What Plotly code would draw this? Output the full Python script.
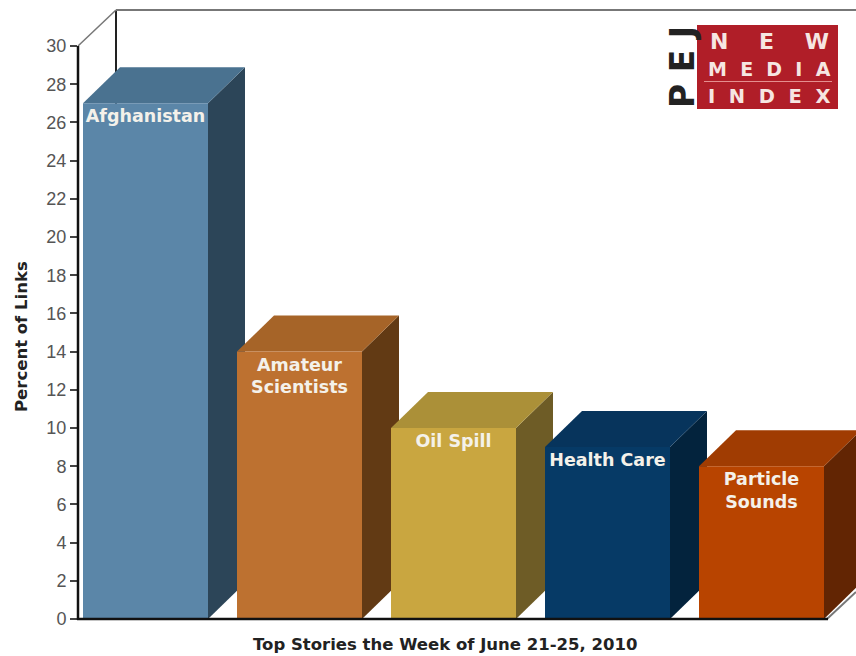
import plotly.graph_objects as go

# Data
stories = ["Afghanistan", "Amateur<br>Scientists", "Oil Spill", "Health Care", "Particle<br>Sounds"]
percent_links = [27, 14, 10, 9, 8]
front_colors = ["#5b86a8", "#bd7130", "#c9a640", "#063a66", "#b84400"]
top_colors = ["#4a7290", "#a66428", "#ab9038", "#07345c", "#a03c02"]
side_colors = ["#2c4558", "#623a14", "#6e5c26", "#03233d", "#622503"]
y_ticks = list(range(0, 31, 2))
x_title = "Top Stories the Week of June 21-25, 2010"
y_title = "Percent of Links"

W, H = 856, 656
L, R, T, B = 78, 0, 10, 37
PX_UNIT_Y = 19.1
PITCH = 154
BAR_W = 125 / PITCH
DX = 37 / PITCH
DY = 36 / PX_UNIT_Y
x_range = [(78 - 145.5) / PITCH, (856 - 145.5) / PITCH]
y_range = [0, (H - T - B) / PX_UNIT_Y]


def px(x):
    return (x - L) / (W - L - R)


def py(y):
    return (H - B - y) / (H - T - B)


fig = go.Figure()
for i, v in enumerate(percent_links):
    right = i + BAR_W / 2
    left = i - BAR_W / 2
    fig.add_trace(go.Scatter(
        x=[right, right + DX, right + DX, right, right],
        y=[0, DY, v + DY, v, 0],
        fill="toself", fillcolor=side_colors[i], mode="lines",
        line=dict(width=0), hoverinfo="skip", showlegend=False))
    fig.add_trace(go.Scatter(
        x=[left, left + DX, right + DX, right, left],
        y=[v, v + DY, v + DY, v, v],
        fill="toself", fillcolor=top_colors[i], mode="lines",
        line=dict(width=0), hoverinfo="skip", showlegend=False))

fig.add_trace(go.Bar(
    x=list(range(len(stories))), y=percent_links, width=BAR_W,
    marker=dict(color=front_colors, line=dict(width=0)),
    text=stories, textposition="inside", insidetextanchor="end",
    textangle=0, constraintext="none",
    insidetextfont=dict(family="DejaVu Sans", size=17.5, color="#f4f1ea", weight="bold"),
    xaxis="x2", yaxis="y2", showlegend=False))

line_gray = "#777777"
shapes = [
    dict(type="line", xref="paper", yref="paper", x0=px(116), x1=px(116), y0=py(10), y1=py(583),
         line=dict(color="#222222", width=2), layer="below"),
    dict(type="line", xref="paper", yref="paper", x0=px(116), x1=1, y0=py(10), y1=py(10),
         line=dict(color=line_gray, width=2), layer="below"),
    dict(type="line", xref="paper", yref="paper", x0=px(78), x1=px(116), y0=py(46), y1=py(10),
         line=dict(color=line_gray, width=1.5), layer="below"),
    dict(type="line", xref="paper", yref="paper", x0=px(827), x1=1, y0=py(619), y1=py(592),
         line=dict(color=line_gray, width=2), layer="below"),
    dict(type="line", xref="paper", yref="paper", x0=px(78), x1=px(78), y0=py(46), y1=py(620),
         line=dict(color="#111111", width=2.5), layer="above"),
    dict(type="line", xref="paper", yref="paper", x0=px(77), x1=px(828), y0=py(619), y1=py(619),
         line=dict(color="#111111", width=2.5), layer="above"),
    dict(type="rect", xref="paper", yref="paper", x0=px(697), x1=px(838), y0=py(25), y1=py(109),
         fillcolor="#b01e28", line=dict(width=0), layer="above"),
    dict(type="line", xref="paper", yref="paper", x0=px(704), x1=px(832), y0=py(81.5), y1=py(81.5),
         line=dict(color="#e58f8f", width=1), layer="above"),
]


def note(text, x, y, family, size, color, weight="bold", angle=0):
    return dict(text=text, xref="paper", yref="paper", x=px(x), y=py(y), showarrow=False,
                xanchor="center", yanchor="middle", textangle=angle,
                font=dict(family=family, size=size, color=color, weight=weight))


nb = "\u00a0"
annotations = [
    note(x_title, 445, 644, "DejaVu Sans", 16.5, "#222222"),
    note(y_title, 21, 337, "DejaVu Sans", 16.5, "#222222", angle=-90),
    note(nb.join("PEJ"), 682, 67, "DejaVu Sans", 33, "#222222", angle=-90),
    note((nb * 4).join("NEW"), 769, 41, "DejaVu Sans", 22, "#f6e6e2"),
    note((nb * 2).join("MEDIA"), 769, 69, "DejaVu Sans", 19, "#f6e6e2"),
    note((nb * 2).join("INDEX"), 769, 96, "DejaVu Sans", 19.5, "#f6e6e2"),
]

fig.update_layout(
    width=W, height=H, margin=dict(l=L, r=R, t=T, b=B),
    paper_bgcolor="white", plot_bgcolor="white", showlegend=False,
    xaxis=dict(range=x_range, visible=False, fixedrange=True),
    yaxis=dict(range=y_range, tickmode="array", tickvals=y_ticks, showgrid=False, zeroline=False,
               showline=False, ticks="outside", ticklen=7, tickwidth=1.5, tickcolor="#444444",
               tickfont=dict(family="Liberation Sans", size=18, color="#555555")),
    xaxis2=dict(range=x_range, overlaying="x", visible=False, fixedrange=True),
    yaxis2=dict(range=y_range, overlaying="y", visible=False),
    shapes=shapes, annotations=annotations,
)

fig.write_html("out.html", post_script="document.body.style.margin='0';",
               config={"displayModeBar": False})
